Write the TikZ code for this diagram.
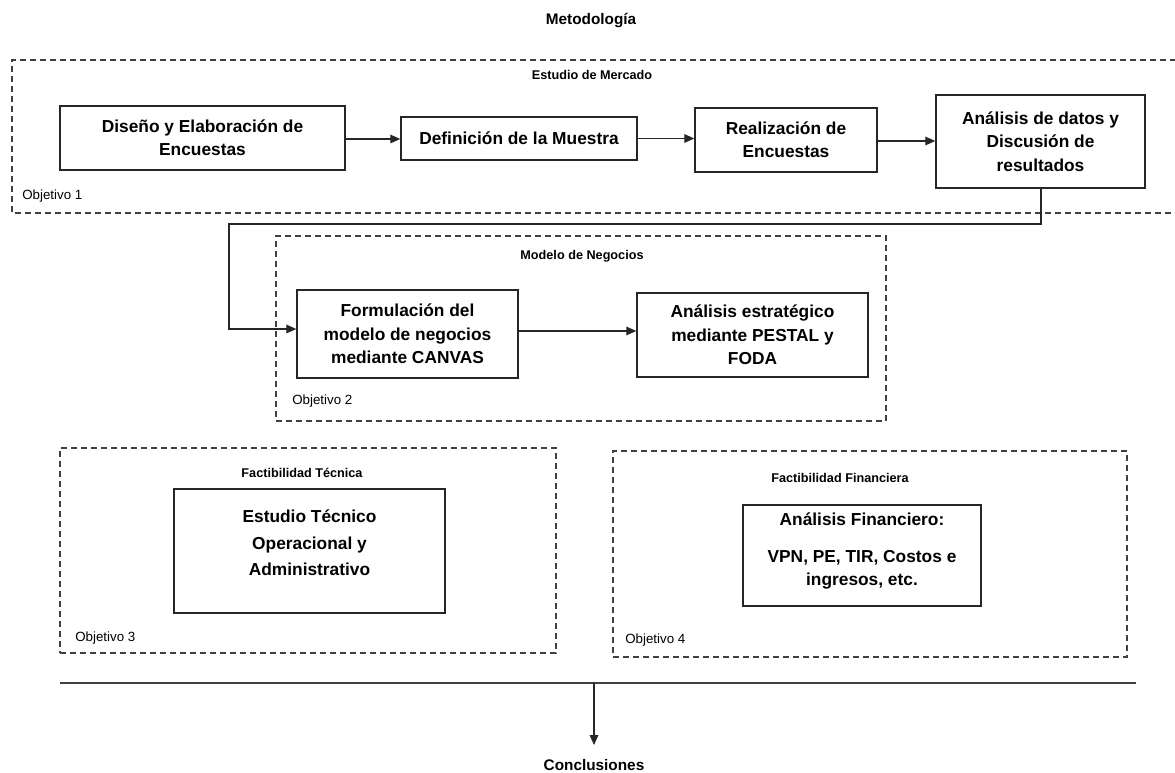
\documentclass[tikz,border=0pt]{standalone}
\usepackage{fontspec}
\setmainfont{Liberation Sans}
\usetikzlibrary{arrows.meta}
\begin{document}
\begin{tikzpicture}[x=0.75pt,y=-0.75pt,
  wh/.style 2 args={minimum width=#1*0.75pt, minimum height=#2*0.75pt},
  box/.style={draw=black!85, line width=1.1pt, align=center, inner sep=0pt,
    font=\bfseries\fontsize{13}{17.5}\selectfont},
  btext/.style={align=center, inner sep=0pt, font=\bfseries\fontsize{13}{17.5}\selectfont},
  group/.style={draw=black!75, dash pattern=on 4.5pt off 3pt, line width=0.9pt, inner sep=0pt},
  glabel/.style={font=\bfseries\fontsize{9.5}{11}\selectfont, inner sep=0pt},
  obj/.style={font=\fontsize{10}{12}\selectfont, inner sep=0pt, anchor=west},
  conn/.style={draw=black!85, line width=0.9pt},
  arr/.style={conn, -{Triangle[length=7.5pt,width=6.5pt]}}
]
\useasboundingbox (0,0) rectangle (1175,773);

\node[font=\bfseries\fontsize{11.5}{13}\selectfont] (title) at (591,21) {Metodología};

% Estudio de Mercado
\coordinate (g1tl) at (12,60);
\coordinate (g1bl) at (12,213);
\draw[group] (1176,60) -- (g1tl) -- (g1bl) -- (1176,213);
\node[glabel] (g1l) at (592,75) {Estudio de Mercado};
\node[obj] (o1) at (22,196) {Objetivo 1};

\node[box, wh={285}{64}] (a) at (202.5,138) {Diseño y Elaboración de\\Encuestas};
\node[box, wh={236}{43}] (b) at (519,138.5) {Definición de la Muestra};
\node[box, wh={182}{64}] (c) at (786,140) {Realización de\\Encuestas};
\node[box, wh={209}{93}] (d) at (1040.5,141.5) {Análisis de datos y\\Discusión de\\resultados};

\draw[arr] (a.east |- 0,139) -- (b.west |- 0,139);
\draw[arr] (b.east |- 0,138.5) -- (c.west |- 0,138.5);
\draw[arr] (c.east |- 0,141) -- (d.west |- 0,141);

% Modelo de Negocios
\node[group, wh={610}{185}] (g2) at (581,328.5) {};
\node[glabel] (g2l) at (582,256) {Modelo de Negocios};
\node[obj] (o2) at (292,401) {Objetivo 2};
\node[box, wh={221}{88}] (e) at (407.5,334) {Formulación del\\modelo de negocios\\mediante CANVAS};
\node[box, wh={231}{84}] (f) at (752.5,335) {Análisis estratégico\\mediante PESTAL y\\FODA};

\coordinate (k1) at (1041,224);
\coordinate (k2) at (229,224);
\coordinate (k3) at (229,329);
\draw[arr] (d.south -| k1) -- (k1) -- (k2) -- (k3) -- (e.west |- k3);
\draw[arr] (e.east |- 0,331) -- (f.west |- 0,331);

% Factibilidad Tecnica
\node[group, wh={496}{205}] (g3) at (308,550.5) {};
\node[glabel] (g3l) at (302,473) {Factibilidad Técnica};
\node[obj] (o3) at (75,638) {Objetivo 3};
\node[box, wh={271}{124}] (g) at (309.5,551) {};
\node[btext, font=\bfseries\fontsize{13}{20}\selectfont] (gt) at (309.5,543) {Estudio Técnico\\Operacional y\\Administrativo};

% Factibilidad Financiera
\node[group, wh={514}{206}] (g4) at (870,554) {};
\node[glabel] (g4l) at (840,478) {Factibilidad Financiera};
\node[obj] (o4) at (625,640) {Objetivo 4};
\node[box, wh={238}{101}] (h) at (862,555.5) {};
\node[btext] (ht) at (862,551) {Análisis Financiero:\\[10pt]VPN, PE, TIR, Costos e\\ingresos, etc.};

% Conclusiones
\coordinate (l1) at (60,683);
\coordinate (l2) at (1136,683);
\draw[draw=black!75, line width=1.5pt] (l1) -- (l2);
\coordinate (l3) at (594,683);
\node[font=\bfseries\fontsize{11.5}{13}\selectfont] (con) at (594,765) {Conclusiones};
\draw[arr] (l3) -- (con.north |- 0,745);
\end{tikzpicture}
\end{document}
